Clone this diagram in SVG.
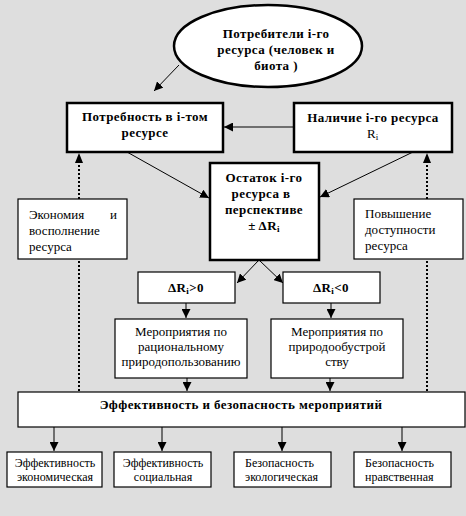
<svg xmlns="http://www.w3.org/2000/svg" width="466" height="516" viewBox="0 0 466 516" font-family="Liberation Serif, DejaVu Serif, serif">
<defs>
<style>
.bg{fill:#dedede}
.thick{fill:#fff;stroke:#000;stroke-width:2.5}
.thin{fill:#fff;stroke:#000;stroke-width:1.2}
.b{font-weight:bold;font-size:13px;fill:#000;letter-spacing:0.4px}
.r{font-size:13px;fill:#000}
.s{font-size:12px;fill:#000}
.ln{stroke:#000;stroke-width:1;fill:none}
.dot{stroke:#000;stroke-width:2;stroke-dasharray:2,2;fill:none}
</style>
<marker id="ah" viewBox="0 0 10 10" refX="10" refY="5" markerWidth="9" markerHeight="9" markerUnits="userSpaceOnUse" orient="auto">
<path d="M0,0 L10,5 L0,10 z" fill="#000"/>
</marker>
</defs>
<rect class="bg" x="0" y="0" width="466" height="516"/>

<g id="connectors">
<line class="ln" x1="179" y1="65" x2="154" y2="91" marker-end="url(#ah)"/>
<line class="ln" x1="294" y1="127" x2="224" y2="127" marker-end="url(#ah)"/>
<line class="ln" x1="127" y1="152" x2="209" y2="198" marker-end="url(#ah)"/>
<line class="ln" x1="413" y1="152" x2="320" y2="197" marker-end="url(#ah)"/>
<line class="ln" x1="259" y1="260" x2="237" y2="283" marker-end="url(#ah)"/>
<line class="ln" x1="259" y1="260" x2="283" y2="283" marker-end="url(#ah)"/>
<line class="ln" x1="186" y1="303" x2="186" y2="318" marker-end="url(#ah)"/>
<line class="ln" x1="331" y1="303" x2="331" y2="318" marker-end="url(#ah)"/>
<line class="ln" x1="187" y1="378" x2="187" y2="391" marker-end="url(#ah)"/>
<line class="ln" x1="330" y1="378" x2="330" y2="391" marker-end="url(#ah)"/>
<line class="dot" x1="79" y1="391" x2="79" y2="162"/>
<path d="M79,153 L75,163 L83,163 z" fill="#000"/>
<line class="dot" x1="427" y1="391" x2="427" y2="162"/>
<path d="M427,153 L423,163 L431,163 z" fill="#000"/>
<line class="ln" x1="54" y1="427" x2="54" y2="451" marker-end="url(#ah)"/>
<line class="ln" x1="162" y1="427" x2="162" y2="451" marker-end="url(#ah)"/>
<line class="ln" x1="282" y1="427" x2="282" y2="451" marker-end="url(#ah)"/>
<line class="ln" x1="402" y1="427" x2="402" y2="451" marker-end="url(#ah)"/>
</g>

<g id="consumers">
<ellipse cx="268" cy="46" rx="94" ry="41" fill="#fff" stroke="#000" stroke-width="2.5"/>
<text class="b" text-anchor="middle" x="276" y="38">Потребители i-го</text>
<text class="b" text-anchor="middle" x="276" y="54">ресурса (человек и</text>
<text class="b" text-anchor="middle" x="276" y="70">биота )</text>
</g>

<g id="need">
<rect class="thick" x="67" y="103" width="156" height="49"/>
<text class="b" text-anchor="middle" x="145" y="121">Потребность в i-том</text>
<text class="b" text-anchor="middle" x="145" y="137">ресурсе</text>
</g>

<g id="avail">
<rect class="thick" x="294" y="103" width="158" height="49"/>
<text class="b" text-anchor="middle" x="373" y="122">Наличие i-го ресурса</text>
<text class="r" x="367" y="138">R<tspan font-size="9" dy="2">i</tspan></text>
</g>

<g id="remain">
<rect class="thick" x="210" y="163" width="109" height="97"/>
<text class="b" text-anchor="middle" x="264" y="182">Остаток i-го</text>
<text class="b" text-anchor="middle" x="261" y="198">ресурса в</text>
<text class="b" text-anchor="middle" x="264" y="214">перспективе</text>
<text class="b" text-anchor="middle" x="264" y="230">± ΔR<tspan font-size="9" dy="2">i</tspan></text>
</g>

<g id="economy">
<rect class="thin" x="18" y="199" width="109" height="60"/>
<text class="r" x="29" y="219">Экономия</text>
<text class="r" x="110" y="219">и</text>
<text class="r" x="29" y="235">восполнение</text>
<text class="r" x="29" y="251">ресурса</text>
</g>

<g id="access">
<rect class="thin" x="354" y="199" width="109" height="60"/>
<text class="r" x="365" y="218">Повышение</text>
<text class="r" x="365" y="234">доступности</text>
<text class="r" x="365" y="250">ресурса</text>
</g>

<g id="pos">
<rect class="thin" x="138" y="272" width="97" height="31"/>
<text class="b" text-anchor="middle" x="186" y="292">ΔR<tspan font-size="9" dy="2">i</tspan><tspan dy="-2">&gt;0</tspan></text>
</g>

<g id="neg">
<rect class="thin" x="283" y="272" width="97" height="31"/>
<text class="b" text-anchor="middle" x="331" y="292">ΔR<tspan font-size="9" dy="2">i</tspan><tspan dy="-2">&lt;0</tspan></text>
</g>

<g id="rational">
<rect class="thin" x="115" y="319" width="132" height="59"/>
<text class="r" text-anchor="middle" x="181" y="336">Мероприятия по</text>
<text class="r" text-anchor="middle" x="181" y="351">рациональному</text>
<text class="r" text-anchor="middle" x="181" y="366">природопользованию</text>
</g>

<g id="arrange">
<rect class="thin" x="271" y="319" width="132" height="59"/>
<text class="r" text-anchor="middle" x="337" y="336">Мероприятия по</text>
<text class="r" text-anchor="middle" x="337" y="351">природообустрой</text>
<text class="r" text-anchor="middle" x="337" y="366">ству</text>
</g>

<g id="efficiency">
<rect class="thin" x="18" y="392" width="447" height="35"/>
<text class="b" text-anchor="middle" x="241" y="409">Эффективность и безопасность мероприятий</text>
</g>

<g id="eff-econ">
<rect class="thin" x="7" y="452" width="95" height="35"/>
<text class="s" text-anchor="middle" x="55" y="467">Эффективность</text>
<text class="s" text-anchor="middle" x="55" y="481">экономическая</text>
</g>

<g id="eff-soc">
<rect class="thin" x="114" y="452" width="97" height="35"/>
<text class="s" text-anchor="middle" x="163" y="467">Эффективность</text>
<text class="s" text-anchor="middle" x="163" y="481">социальная</text>
</g>

<g id="safe-eco">
<rect class="thin" x="234" y="452" width="97" height="35"/>
<text class="s" x="245" y="467">Безопасность</text>
<text class="s" x="245" y="481">экологическая</text>
</g>

<g id="safe-moral">
<rect class="thin" x="354" y="452" width="97" height="35"/>
<text class="s" x="365" y="467">Безопасность</text>
<text class="s" x="365" y="481">нравственная</text>
</g>
</svg>
